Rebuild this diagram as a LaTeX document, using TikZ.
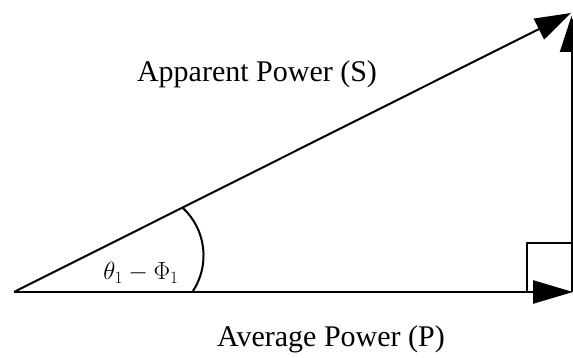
\documentclass[tikz,border=0pt]{standalone}
\usepackage{fontspec}
\setmainfont{Liberation Serif}
\usetikzlibrary{arrows.meta}
\tikzset{
  vec/.style={line width=2pt, -{Triangle[length=36pt,width=23pt]}},
  basevec/.style={line width=2.5pt, -{Triangle[length=40pt,width=23pt]}},
  side/.style={line width=2.5pt},
  thin/.style={line width=2pt},
  lbl/.style={font=\fontsize{30}{36}\selectfont, inner sep=0pt, anchor=base},
  anglbl/.style={font=\fontsize{25}{30}\selectfont, inner sep=0pt, anchor=base}
}
\begin{document}
\begin{tikzpicture}[x=1pt,y=1pt]
\useasboundingbox (0,0) rectangle (573,358);
\fill[white] (0,0) rectangle (573,358);
% key points
\coordinate (O) at (14,66);
\coordinate (S) at (571,345);
\coordinate (P) at (573,66);
\coordinate (C) at (571.5,66);
\coordinate (Q) at (571.5,342);
\coordinate (R) at (527,115);
% sides
\draw[basevec] (O) -- (P);
\draw[vec] (C) -- (Q);
\draw[vec] (O) -- (S);
% right-angle mark
\draw[thin] (527,66) -- (R) -- (571.5,115);
% angle arc
\coordinate (A1) at (193,67);
\draw[thin] (A1) arc[start angle=-33.1, end angle=46.9, radius=65];
% labels
\node[lbl] (app) at (257,276) {Apparent Power (S)};
\node[lbl] (avg) at (331,11) {Average Power (P)};
\node[anglbl] (ang) at (141,78) {$\theta_1 - \Phi_1$};
\end{tikzpicture}
\end{document}
